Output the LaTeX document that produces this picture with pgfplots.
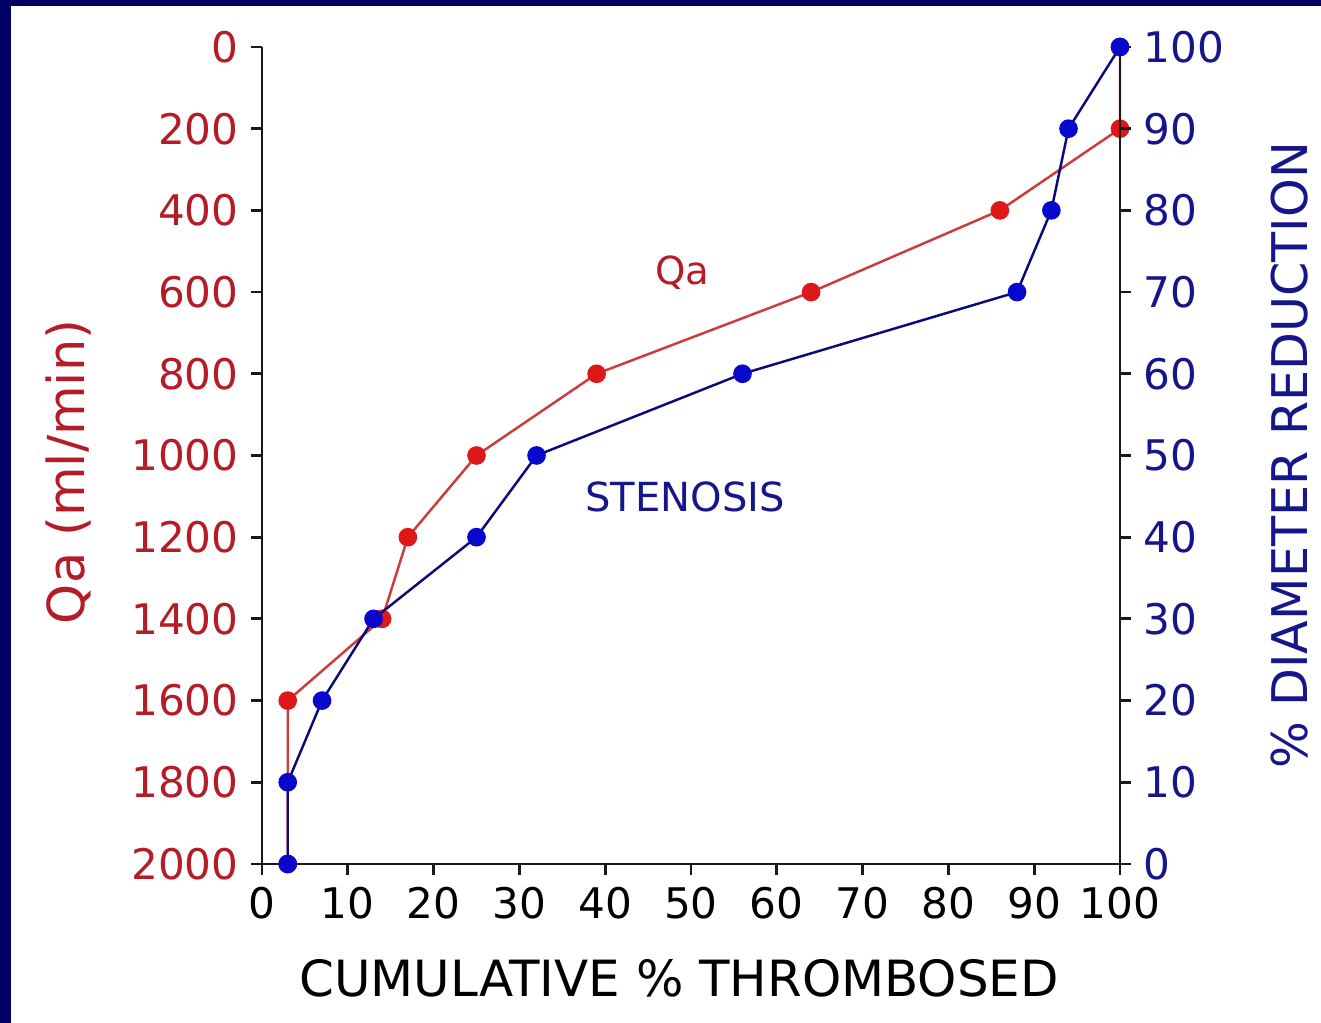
\documentclass[border=0pt]{standalone}
\usepackage{fontspec}
\setmainfont{DejaVu Sans}
\usepackage{pgfplots}
\pgfplotsset{compat=1.18}

\definecolor{qared}{RGB}{180,28,40}
\definecolor{qamark}{RGB}{222,24,24}
\definecolor{qaline}{RGB}{205,60,60}
\definecolor{stnavy}{RGB}{22,22,140}
\definecolor{stmark}{RGB}{8,8,205}
\definecolor{stline}{RGB}{10,10,125}
\definecolor{framebg}{RGB}{0,0,100}

\pgfplotsset{
  chart/.style={
    scale only axis,
    width=8.58cm, height=8.17cm,
    at={(2.62cm,1.59cm)}, anchor=south west,
    xmin=0, xmax=100,
    clip=false,
    tick align=outside,
    major tick length=1.1mm,
    axis line style={line width=0.8pt, black!90, -},
    every tick/.style={line width=0.8pt, black!90},
    ticklabel style={font=\fontsize{12}{14}\selectfont},
    /pgf/number format/assume math mode=true,
    /pgf/number format/1000 sep={},
  }
}

\begin{document}
\begin{tikzpicture}
\path[use as bounding box] (0,0) rectangle (13.21cm,10.23cm);
\fill[white] (0,0) rectangle (13.21cm,10.23cm);
\fill[framebg] (0,0) rectangle (0.11cm,10.23cm);
\fill[framebg] (0,10.17cm) rectangle (13.21cm,10.23cm);

% left axis: access flow, reversed
\begin{axis}[chart,
  axis x line*=bottom, axis y line*=left,
  y dir=reverse, ymin=0, ymax=2000,
  ytick={0,200,...,2000},
  xtick={0,10,...,100},
  yticklabel style={text=qared},
  xlabel={CUMULATIVE \% THROMBOSED},
  ylabel={Qa (ml/min)},
  every axis x label/.style={at={(axis description cs:0.486,-0.1395)}, anchor=center,
    font=\fontsize{14.2}{16}\selectfont},
  every axis y label/.style={at={(axis description cs:-0.226,0.48)}, anchor=center, rotate=90,
    text=qared, font=\fontsize{14.5}{16}\selectfont},
]
\addplot[qaline, line width=0.7pt, mark=*, mark size=2.3pt,
  mark options={draw=qamark, fill=qamark}]
  coordinates {(3,2000) (3,1600) (14,1400) (17,1200) (25,1000) (39,800)
               (64,600) (86,400) (100,200) (100,0)};
\node[text=qared, font=\fontsize{11}{13}\selectfont] at (axis cs:49,553) {Qa};
\end{axis}

% right axis: stenosis
\begin{axis}[chart,
  axis x line=none, axis y line*=right,
  ymin=0, ymax=100,
  ytick={0,10,...,100},
  yticklabel style={text=stnavy},
  ylabel={\% DIAMETER REDUCTION},
  every axis y label/.style={at={(axis description cs:1.198,0.50)}, anchor=center, rotate=90,
    text=stnavy, font=\fontsize{14}{16}\selectfont},
]
\addplot[stline, line width=0.7pt, mark=*, mark size=2.3pt,
  mark options={draw=stmark, fill=stmark}]
  coordinates {(3,0) (3,10) (7,20) (13,30) (25,40) (32,50) (56,60)
               (88,70) (92,80) (94,90) (100,100)};
\node[text=stnavy, font=\fontsize{11.4}{13}\selectfont] at (axis cs:49.3,44.9) {STENOSIS};
\end{axis}
\end{tikzpicture}
\end{document}
